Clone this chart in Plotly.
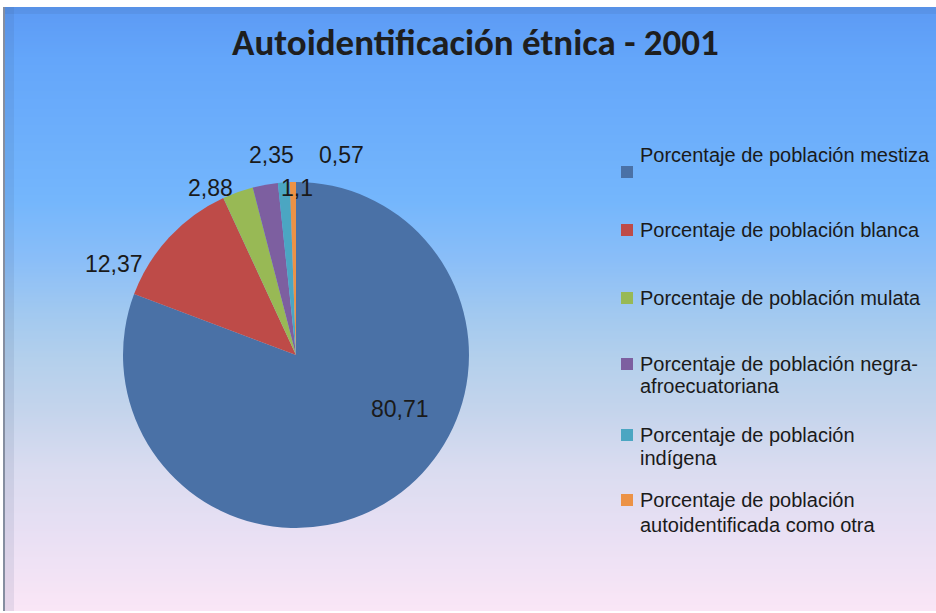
import numpy as np
import plotly.graph_objects as go

# ---- data ----
categories = [
    "Porcentaje de población mestiza",
    "Porcentaje de población blanca",
    "Porcentaje de población mulata",
    "Porcentaje de población negra-afroecuatoriana",
    "Porcentaje de población indígena",
    "Porcentaje de población autoidentificada como otra",
]
values = [80.71, 12.37, 2.88, 2.35, 1.1, 0.57]
value_labels = ["80,71", "12,37", "2,88", "2,35", "1,1", "0,57"]
legend_lines = [
    ["Porcentaje de población mestiza"],
    ["Porcentaje de población blanca"],
    ["Porcentaje de población mulata"],
    ["Porcentaje de población negra-", "afroecuatoriana"],
    ["Porcentaje de población", "indígena"],
    ["Porcentaje de población", "autoidentificada como otra"],
]
title_text = "Autoidentificación étnica - 2001"

# ---- style ----
W, H = 936, 613
colors = ["#4A71A6", "#BE4B48", "#98B955", "#7D5FA0", "#4BA6C2", "#EC9246"]


def px(x):
    return x / W


def py(y):
    return 1 - y / H


fig = go.Figure()
fig.add_trace(go.Pie(
    labels=categories,
    values=values,
    sort=False,
    direction="clockwise",
    rotation=0,
    marker=dict(colors=colors, line=dict(width=0)),
    textinfo="none",
    hoverinfo="label+value",
    showlegend=False,
    domain=dict(x=[px(122), px(470)], y=[py(528), py(182)]),
))

shapes = []
# gradient background
stops_y = [7, 60, 200, 260, 310, 360, 410, 470, 540, 611]
stops_c = [
    (92, 154, 244), (100, 166, 250), (116, 182, 252), (138, 190, 248),
    (160, 200, 240), (180, 208, 236), (196, 212, 236), (218, 220, 240),
    (234, 224, 244), (250, 230, 246),
]
stops_c = np.array(stops_c, dtype=float)
step = 2
for y0 in range(7, 611, step):
    ym = y0 + step / 2
    c = [int(round(np.interp(ym, stops_y, stops_c[:, k]))) for k in range(3)]
    shapes.append(dict(type="rect", xref="paper", yref="paper",
                       x0=px(5), x1=1, y0=py(min(y0 + step, 611)), y1=py(y0),
                       fillcolor=f"rgb({c[0]},{c[1]},{c[2]})",
                       line=dict(width=0), layer="below"))
# left edge shading
shapes.append(dict(type="rect", xref="paper", yref="paper", x0=px(3), x1=px(5),
                   y0=py(611), y1=py(7), fillcolor="rgba(120,130,150,0.9)",
                   line=dict(width=0), layer="below"))
shapes.append(dict(type="rect", xref="paper", yref="paper", x0=px(5), x1=px(14),
                   y0=py(611), y1=py(7), fillcolor="rgba(60,80,120,0.10)",
                   line=dict(width=0), layer="below"))
shapes.append(dict(type="rect", xref="paper", yref="paper", x0=px(5), x1=1,
                   y0=py(14), y1=py(7), fillcolor="rgba(60,80,120,0.10)",
                   line=dict(width=0), layer="below"))

annotations = []
# title
annotations.append(dict(
    text=f"<b>{title_text}</b>", x=px(475), y=py(42), xref="paper", yref="paper",
    showarrow=False, xanchor="center", yanchor="middle",
    font=dict(family="Carlito, 'Liberation Sans Narrow', 'DejaVu Sans Condensed', Lato",
              size=37, color="#1E1E1E"),
))

# data labels
label_pos = [(400, 409), (114, 264), (210, 188), (271, 155), (297, 188), (341, 155)]
for txt, (lx, ly) in zip(value_labels, label_pos):
    annotations.append(dict(
        text=txt, x=px(lx), y=py(ly), xref="paper", yref="paper",
        showarrow=False, xanchor="center", yanchor="middle",
        font=dict(family="'Liberation Sans', Arial, sans-serif", size=23, color="#1A1A1A"),
    ))

# legend
legend_text_y = [[155], [230], [298], [364, 386], [435, 458], [500, 525]]
legend_marker_y = [172, 230, 298, 364, 435, 500]
for lines, ys, my, col in zip(legend_lines, legend_text_y, legend_marker_y, colors):
    shapes.append(dict(type="rect", xref="paper", yref="paper",
                       x0=px(621), x1=px(633), y0=py(my + 6), y1=py(my - 6),
                       fillcolor=col, line=dict(width=0)))
    for line, ly in zip(lines, ys):
        annotations.append(dict(
            text=line, x=px(638), y=py(ly), xref="paper", yref="paper",
            showarrow=False, xanchor="left", yanchor="middle",
            font=dict(family="'Liberation Sans', Arial, sans-serif", size=20, color="#1A1A1A"),
        ))

fig.update_layout(
    width=W, height=H,
    margin=dict(l=0, r=0, t=0, b=0),
    paper_bgcolor="white",
    plot_bgcolor="rgba(0,0,0,0)",
    shapes=shapes,
    annotations=annotations,
    showlegend=False,
)

fig.write_html(
    "out.html",
    config={"displayModeBar": False},
    post_script="document.body.style.margin='0';document.body.style.overflow='hidden';",
)
